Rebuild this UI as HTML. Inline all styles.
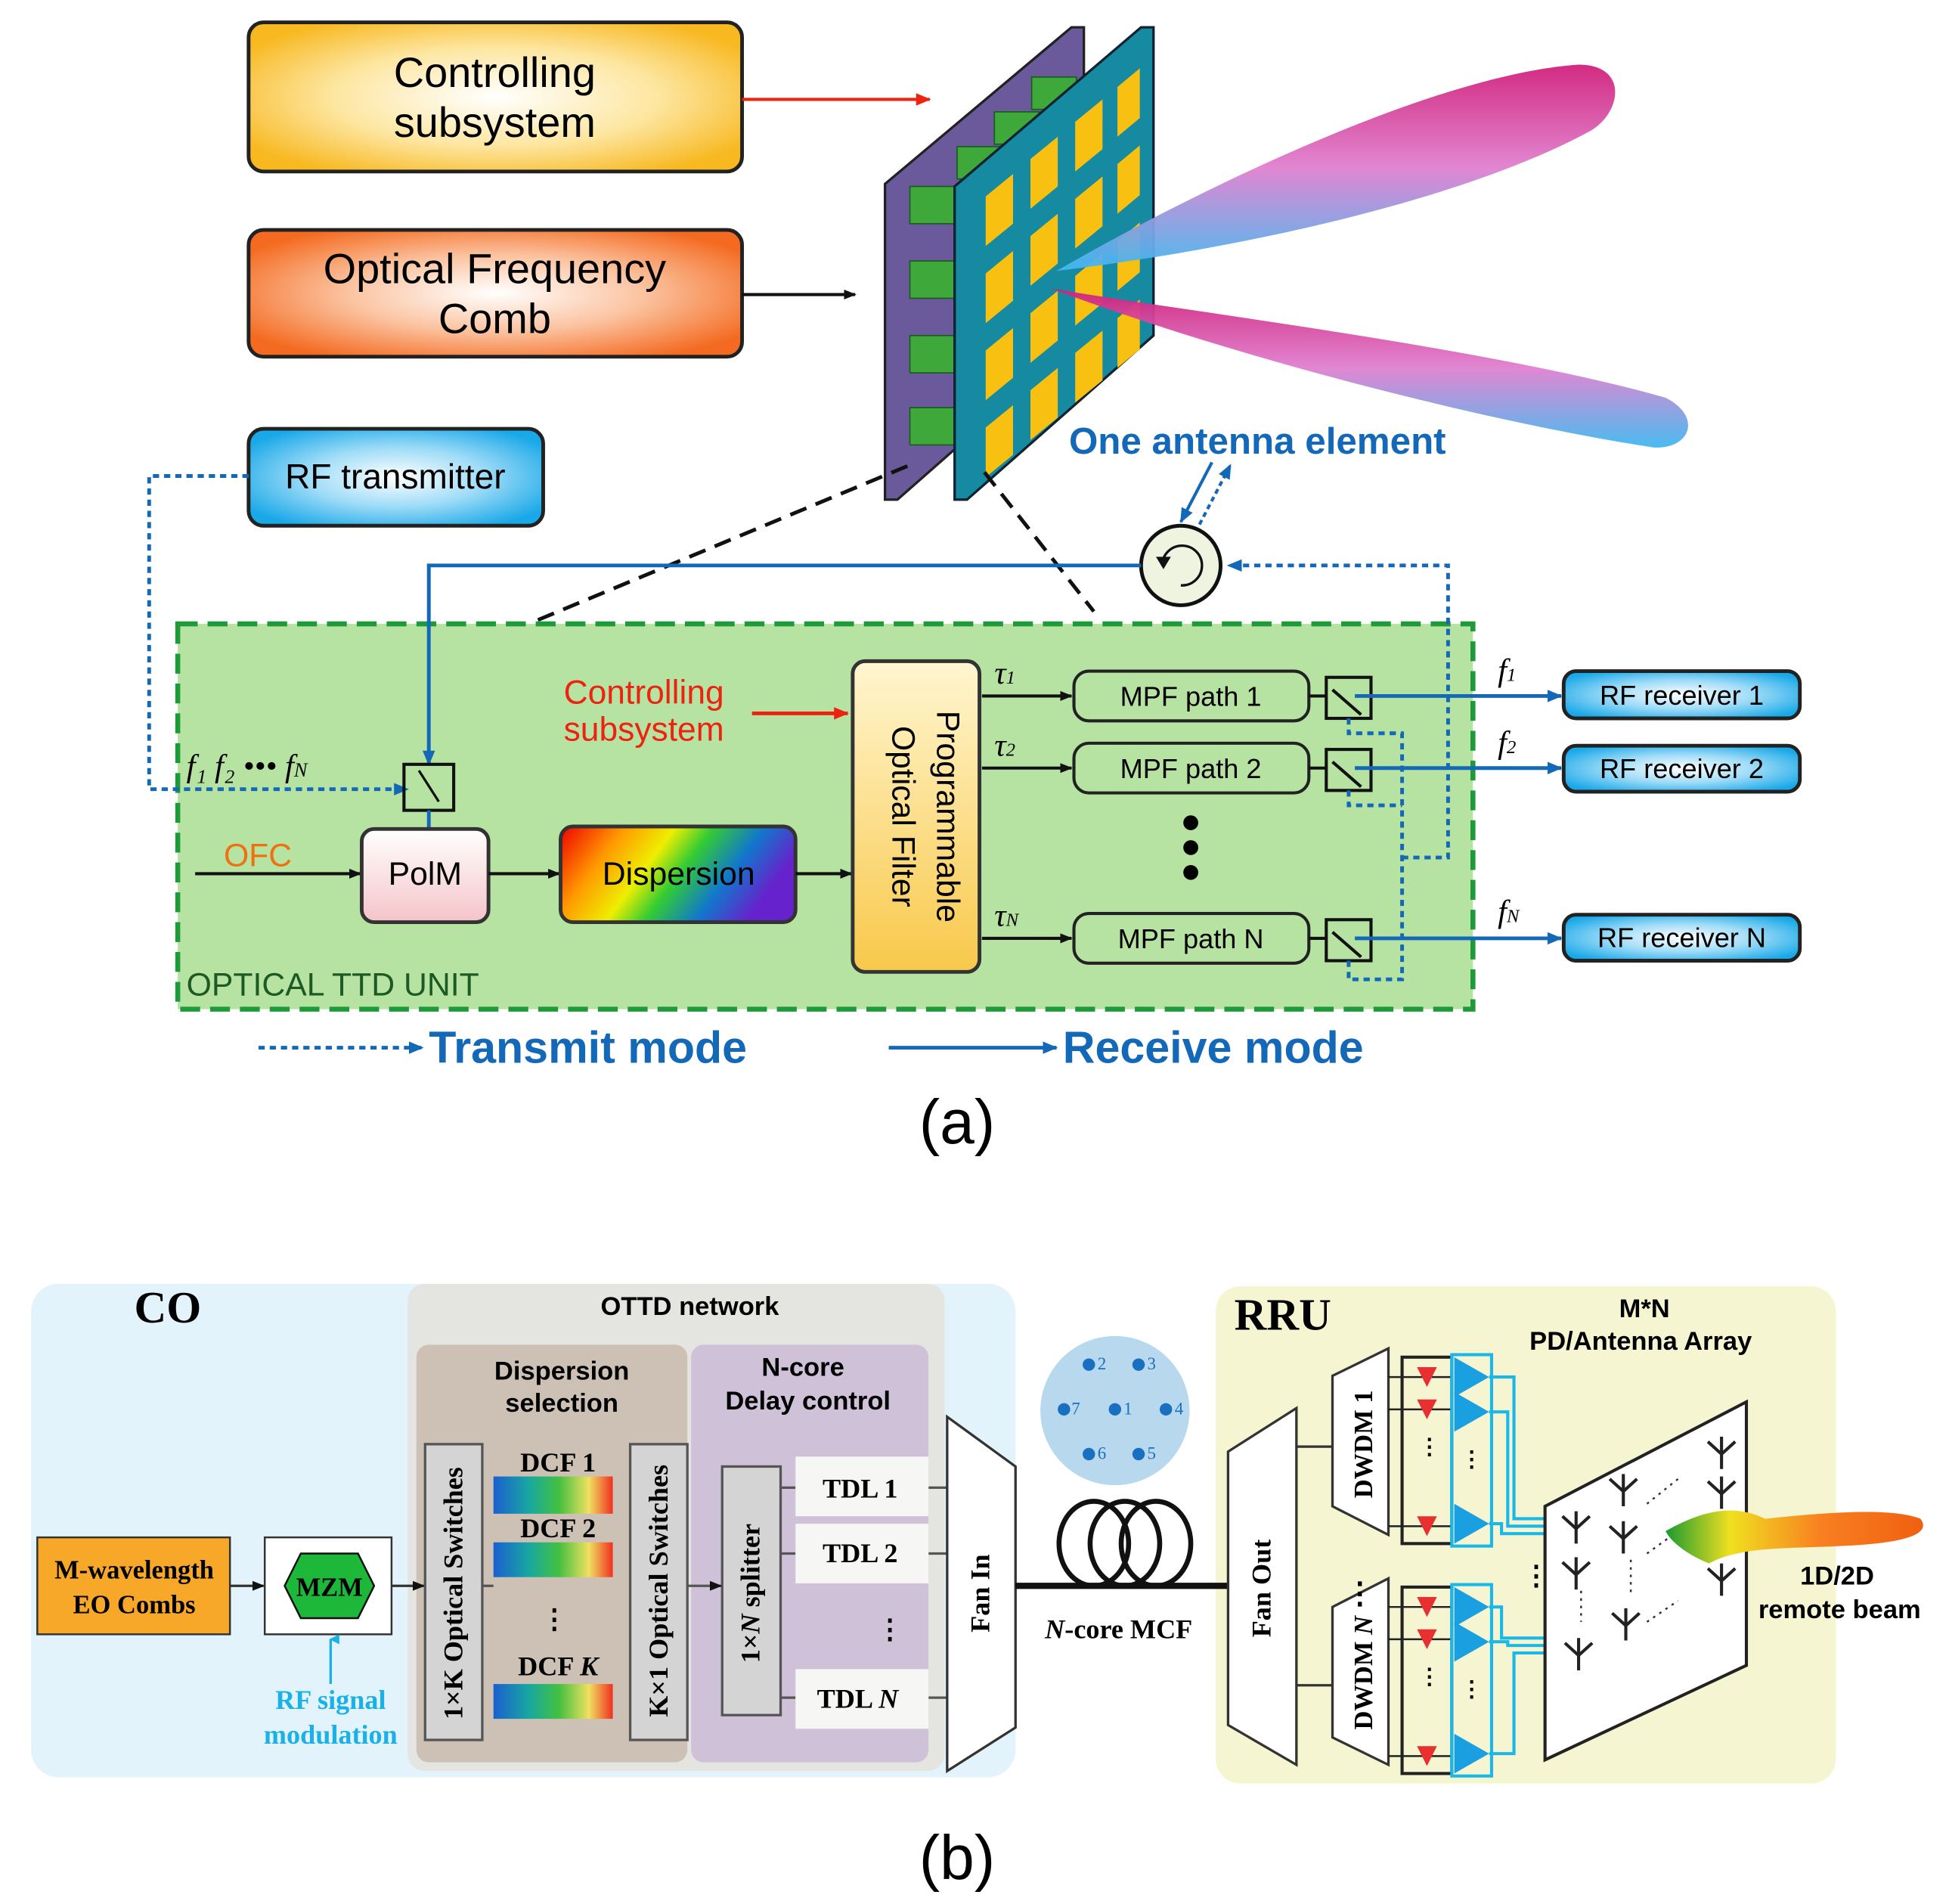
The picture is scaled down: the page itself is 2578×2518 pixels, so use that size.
<!DOCTYPE html>
<html><head><meta charset="utf-8"><style>html,body{margin:0;padding:0;background:#fff}svg{display:block}</style></head><body>
<svg width="2578" height="2518" viewBox="0 0 1568 1532" preserveAspectRatio="none" xmlns="http://www.w3.org/2000/svg" font-family="Liberation Sans, sans-serif">
<defs>
<radialGradient id="gy" cx="50%" cy="50%" r="60%"><stop offset="0" stop-color="#fff"/><stop offset="0.55" stop-color="#fde6a0"/><stop offset="1" stop-color="#f8b820"/></radialGradient>
<radialGradient id="go" cx="50%" cy="50%" r="60%"><stop offset="0" stop-color="#fff"/><stop offset="0.5" stop-color="#fbc3a0"/><stop offset="1" stop-color="#f46a20"/></radialGradient>
<radialGradient id="gb" cx="50%" cy="50%" r="60%"><stop offset="0" stop-color="#fff"/><stop offset="0.5" stop-color="#9fdcf7"/><stop offset="1" stop-color="#19a8e8"/></radialGradient>
<linearGradient id="gp" x1="0" y1="0" x2="0" y2="1"><stop offset="0" stop-color="#fff"/><stop offset="1" stop-color="#f4c4c8"/></linearGradient>
<linearGradient id="gf" x1="0" y1="0" x2="0" y2="1"><stop offset="0" stop-color="#fff6d0"/><stop offset="1" stop-color="#f8c84a"/></linearGradient>
<linearGradient id="rain" x1="0" y1="0" x2="1" y2="0.3"><stop offset="0" stop-color="#e00"/><stop offset="0.25" stop-color="#f90"/><stop offset="0.45" stop-color="#ee0"/><stop offset="0.6" stop-color="#3c3"/><stop offset="0.8" stop-color="#17c"/><stop offset="1" stop-color="#62c"/></linearGradient>
<linearGradient id="dcf" x1="0" y1="0" x2="1" y2="0"><stop offset="0" stop-color="#1a5fd0"/><stop offset="0.3" stop-color="#18a8a0"/><stop offset="0.55" stop-color="#44c040"/><stop offset="0.8" stop-color="#f0e060"/><stop offset="1" stop-color="#f03020"/></linearGradient>
<linearGradient id="lobe" x1="0" y1="0" x2="0" y2="1"><stop offset="0" stop-color="#d0207a"/><stop offset="0.5" stop-color="#e080d0"/><stop offset="1" stop-color="#40b8f0"/></linearGradient>
<linearGradient id="beam" x1="0" y1="0" x2="1" y2="0"><stop offset="0" stop-color="#1a9a30"/><stop offset="0.25" stop-color="#f0e020"/><stop offset="0.6" stop-color="#f88020"/><stop offset="1" stop-color="#f06010"/></linearGradient>
<marker id="ak" markerWidth="10" markerHeight="10" refX="9" refY="5" orient="auto" markerUnits="userSpaceOnUse"><path d="M0,1 L10,5 L0,9z" fill="#111"/></marker>
<marker id="ar" markerWidth="12" markerHeight="12" refX="11" refY="6" orient="auto" markerUnits="userSpaceOnUse"><path d="M0,1 L12,6 L0,11z" fill="#e21"/></marker>
<marker id="ab" markerWidth="12" markerHeight="12" refX="11" refY="6" orient="auto" markerUnits="userSpaceOnUse"><path d="M0,1 L12,6 L0,11z" fill="#1468b8"/></marker>
<marker id="ac" markerWidth="8" markerHeight="8" refX="4" refY="1" orient="auto" markerUnits="userSpaceOnUse"><path d="M0,8 L4,0 L8,8z" fill="#1ab0e8"/></marker>
<g id="ant"><path d="M0,-12 L0,14 M-11,-8 L0,2 L11,-8" fill="none" stroke="#222" stroke-width="2.5"/></g>
</defs>

<!-- TOP -->
<rect x="200" y="18" width="397" height="120" rx="12" fill="url(#gy)" stroke="#222" stroke-width="3"/>
<text x="398" y="70" font-size="34" text-anchor="middle">Controlling</text>
<text x="398" y="110" font-size="34" text-anchor="middle">subsystem</text>
<line x1="597" y1="80" x2="748" y2="80" stroke="#e21" stroke-width="2.5" marker-end="url(#ar)"/>
<rect x="200" y="185" width="397" height="102" rx="12" fill="url(#go)" stroke="#222" stroke-width="3"/>
<text x="398" y="228" font-size="34" text-anchor="middle">Optical Frequency</text>
<text x="398" y="268" font-size="34" text-anchor="middle">Comb</text>
<line x1="597" y1="237" x2="688" y2="237" stroke="#111" stroke-width="2.5" marker-end="url(#ak)"/>

<polygon points="712,148 862,22 872,22 872,270 722,402 712,402" fill="#6a5a9c" stroke="#222" stroke-width="2"/>
<g fill="#3fa83a" stroke="#1a5a1a" stroke-width="1">
<rect x="732" y="150" width="36" height="30"/><rect x="732" y="210" width="36" height="30"/><rect x="732" y="270" width="36" height="30"/><rect x="732" y="328" width="36" height="30"/>
<rect x="770" y="118" width="36" height="26"/><rect x="800" y="90" width="36" height="26"/><rect x="830" y="62" width="36" height="26"/>
</g>
<polygon points="768,150 918,22 928,22 928,270 778,402 768,402" fill="#158aa0" stroke="#123" stroke-width="2"/>
<g fill="#f8c010">
<polygon points="793,158 815,140 815,180 793,198"/><polygon points="829,128 851,110 851,150 829,168"/><polygon points="865,98 887,80 887,120 865,138"/><polygon points="899,70 917,55 917,95 899,110"/>
<polygon points="793,220 815,202 815,242 793,260"/><polygon points="829,190 851,172 851,212 829,230"/><polygon points="865,160 887,142 887,182 865,200"/><polygon points="899,132 917,117 917,157 899,172"/>
<polygon points="793,282 815,264 815,304 793,322"/><polygon points="829,252 851,234 851,274 829,292"/><polygon points="865,222 887,204 887,244 865,262"/><polygon points="899,194 917,179 917,219 899,234"/>
<polygon points="793,344 815,326 815,366 793,384"/><polygon points="829,314 851,296 851,336 829,354"/><polygon points="865,284 887,266 887,306 865,324"/><polygon points="899,256 917,241 917,281 899,296"/>
</g>
<path d="M850,218 C950,160 1150,60 1270,52 C1310,52 1305,90 1280,105 C1180,160 1000,200 850,218z" fill="url(#lobe)" opacity="0.95"/>
<path d="M845,232 C950,250 1200,280 1340,320 C1370,335 1360,362 1330,360 C1200,340 1000,290 845,232z" fill="url(#lobe)" opacity="0.95"/>
<text x="860" y="365" font-size="30" font-weight="bold" fill="#1468b8">One antenna element</text>
<line x1="975" y1="372" x2="950" y2="420" stroke="#1468b8" stroke-width="2.5" marker-end="url(#ab)"/>
<line x1="965" y1="422" x2="990" y2="374" stroke="#1468b8" stroke-width="2.5" stroke-dasharray="4,3" marker-end="url(#ab)"/>
<circle cx="950" cy="455" r="32" fill="#eef4e0" stroke="#111" stroke-width="3"/>
<path d="M935,455 A16,16 0 1 1 950,471" fill="none" stroke="#111" stroke-width="2"/>
<path d="M930,448 L936,458 L942,448z" fill="#111"/>

<line x1="730" y1="375" x2="430" y2="500" stroke="#111" stroke-width="3" stroke-dasharray="14,8"/>
<line x1="792" y1="380" x2="880" y2="492" stroke="#111" stroke-width="3" stroke-dasharray="14,8"/>

<rect x="200" y="345" width="237" height="78" rx="12" fill="url(#gb)" stroke="#222" stroke-width="3"/>
<text x="318" y="393" font-size="28" text-anchor="middle">RF transmitter</text>

<rect x="143" y="502" width="1042" height="310" fill="#b7e3a2" stroke="#1f9a3a" stroke-width="4" stroke-dasharray="16,8"/>
<text x="150" y="801" font-size="26" fill="#1b5a22">OPTICAL TTD UNIT</text>

<path d="M200,383 L120,383 L120,635 L328,635" fill="none" stroke="#1468b8" stroke-width="3" stroke-dasharray="5,4" marker-end="url(#ab)"/>
<path d="M918,455 L345,455 L345,615" fill="none" stroke="#1468b8" stroke-width="3" marker-end="url(#ab)"/>
<path d="M1128,690 L1165,690 L1165,455 L988,455" fill="none" stroke="#1468b8" stroke-width="3" stroke-dasharray="5,4" marker-end="url(#ab)"/>

<text x="150" y="625" font-size="26" font-style="italic" font-family="Liberation Serif, serif">f₁  f₂ ••• f<tspan font-size="16">N</tspan></text>
<rect x="325" y="615" width="40" height="37" fill="none" stroke="#111" stroke-width="2.5"/>
<line x1="337" y1="620" x2="353" y2="645" stroke="#111" stroke-width="2"/>
<line x1="345" y1="652" x2="345" y2="667" stroke="#1468b8" stroke-width="3"/>
<text x="180" y="697" font-size="26" fill="#f07010">OFC</text>
<line x1="157" y1="703" x2="290" y2="703" stroke="#111" stroke-width="2.5" marker-end="url(#ak)"/>
<rect x="291" y="667" width="102" height="75" rx="10" fill="url(#gp)" stroke="#333" stroke-width="3"/>
<text x="342" y="712" font-size="26" text-anchor="middle">PolM</text>
<line x1="393" y1="703" x2="450" y2="703" stroke="#111" stroke-width="2.5" marker-end="url(#ak)"/>
<rect x="451" y="665" width="189" height="77" rx="10" fill="url(#rain)" stroke="#333" stroke-width="3"/>
<text x="546" y="712" font-size="26" text-anchor="middle">Dispersion</text>
<line x1="640" y1="703" x2="685" y2="703" stroke="#111" stroke-width="2.5" marker-end="url(#ak)"/>
<rect x="686" y="532" width="102" height="250" rx="10" fill="url(#gf)" stroke="#333" stroke-width="3"/>
<text transform="translate(754,657) rotate(90)" font-size="26" text-anchor="middle">Programmable</text>
<text transform="translate(718,657) rotate(90)" font-size="26" text-anchor="middle">Optical Filter</text>
<text x="518" y="566" font-size="27" fill="#e21" text-anchor="middle">Controlling</text>
<text x="518" y="596" font-size="27" fill="#e21" text-anchor="middle">subsystem</text>
<line x1="605" y1="574" x2="682" y2="574" stroke="#e21" stroke-width="3" marker-end="url(#ar)"/>

<g font-family="Liberation Serif, serif" font-style="italic" font-size="26">
<text x="800" y="550">τ<tspan font-size="15">1</tspan></text>
<text x="800" y="608">τ<tspan font-size="15">2</tspan></text>
<text x="800" y="745">τ<tspan font-size="15">N</tspan></text>
<text x="1205" y="548">f<tspan font-size="15">1</tspan></text>
<text x="1205" y="606">f<tspan font-size="15">2</tspan></text>
<text x="1205" y="742">f<tspan font-size="15">N</tspan></text>
</g>
<g stroke="#111" stroke-width="2.5">
<line x1="790" y1="560" x2="862" y2="560" marker-end="url(#ak)"/>
<line x1="790" y1="618" x2="862" y2="618" marker-end="url(#ak)"/>
<line x1="790" y1="755" x2="862" y2="755" marker-end="url(#ak)"/>
</g>
<g fill="#b7e3a2" stroke="#222" stroke-width="2.5">
<rect x="864" y="540" width="189" height="40" rx="12"/><rect x="864" y="598" width="189" height="40" rx="12"/><rect x="864" y="735" width="189" height="40" rx="12"/>
</g>
<g font-size="22" text-anchor="middle"><text x="958" y="568">MPF path 1</text><text x="958" y="626">MPF path 2</text><text x="958" y="763">MPF path N</text></g>
<circle cx="958" cy="662" r="6"/><circle cx="958" cy="682" r="6"/><circle cx="958" cy="702" r="6"/>
<g fill="none" stroke="#111" stroke-width="2.5">
<rect x="1067" y="545" width="36" height="33"/><rect x="1067" y="603" width="36" height="33"/><rect x="1067" y="740" width="36" height="33"/>
<line x1="1053" y1="560" x2="1067" y2="560"/><line x1="1053" y1="618" x2="1067" y2="618"/><line x1="1053" y1="755" x2="1067" y2="755"/>
<line x1="1072" y1="555" x2="1095" y2="575"/><line x1="1072" y1="613" x2="1095" y2="633"/><line x1="1072" y1="750" x2="1095" y2="770"/>
</g>
<g stroke="#1468b8" stroke-width="3" fill="none">
<line x1="1090" y1="560" x2="1256" y2="560" marker-end="url(#ab)"/>
<line x1="1090" y1="618" x2="1256" y2="618" marker-end="url(#ab)"/>
<line x1="1090" y1="755" x2="1256" y2="755" marker-end="url(#ab)"/>
<path d="M1085,578 L1085,590 L1128,590 L1128,788 L1085,788 L1085,773" stroke-dasharray="5,4"/>
<path d="M1085,636 L1085,648 L1128,648" stroke-dasharray="5,4"/>
</g>
<g fill="url(#gb)" stroke="#222" stroke-width="3">
<rect x="1258" y="540" width="190" height="38" rx="10"/><rect x="1258" y="600" width="190" height="37" rx="10"/><rect x="1258" y="736" width="190" height="37" rx="10"/>
</g>
<g font-size="22" text-anchor="middle"><text x="1353" y="567">RF receiver 1</text><text x="1353" y="626">RF receiver 2</text><text x="1353" y="762">RF receiver N</text></g>

<line x1="208" y1="843" x2="340" y2="843" stroke="#1468b8" stroke-width="3" stroke-dasharray="5,4" marker-end="url(#ab)"/>
<text x="345" y="855" font-size="36" font-weight="bold" fill="#1468b8">Transmit mode</text>
<line x1="715" y1="843" x2="850" y2="843" stroke="#1468b8" stroke-width="3" marker-end="url(#ab)"/>
<text x="855" y="855" font-size="36" font-weight="bold" fill="#1468b8">Receive mode</text>
<text x="770" y="920" font-size="50" text-anchor="middle">(a)</text>

<!-- BOTTOM -->
<rect x="25" y="1033" width="792" height="397" rx="22" fill="#e2f3fb"/>
<rect x="328" y="1033" width="432" height="392" rx="14" fill="#e4e5e1"/>
<rect x="335" y="1082" width="218" height="336" rx="10" fill="#cdc1b5"/>
<rect x="556" y="1082" width="191" height="336" rx="10" fill="#cfc1d8"/>
<rect x="978" y="1035" width="499" height="400" rx="20" fill="#f6f5d2"/>
<g font-family="Liberation Serif, serif" font-weight="bold">
<text x="108" y="1064" font-size="36">CO</text>
<text x="993" y="1070" font-size="36">RRU</text>
</g>
<g font-weight="bold" font-size="21" text-anchor="middle">
<text x="555" y="1058">OTTD network</text>
<text x="452" y="1110">Dispersion</text><text x="452" y="1136">selection</text>
<text x="646" y="1107">N-core</text><text x="650" y="1134">Delay control</text>
<text x="1323" y="1060">M*N</text><text x="1320" y="1086">PD/Antenna Array</text>
</g>
<rect x="30" y="1237" width="155" height="78" fill="#f8a828" stroke="#333" stroke-width="1.5"/>
<g font-family="Liberation Serif, serif" font-weight="bold" font-size="21" text-anchor="middle">
<text x="108" y="1270">M-wavelength</text><text x="108" y="1298">EO Combs</text>
</g>
<line x1="185" y1="1276" x2="212" y2="1276" stroke="#333" stroke-width="2" marker-end="url(#ak)"/>
<rect x="213" y="1237" width="102" height="78" fill="#fff" stroke="#333" stroke-width="1.5"/>
<polygon points="229,1276 242,1250 288,1250 301,1276 288,1302 242,1302" fill="#1db83a" stroke="#111" stroke-width="1.5"/>
<text x="265" y="1284" font-family="Liberation Serif, serif" font-weight="bold" font-size="21" text-anchor="middle">MZM</text>
<line x1="315" y1="1276" x2="341" y2="1276" stroke="#333" stroke-width="2" marker-end="url(#ak)"/>
<line x1="266" y1="1355" x2="266" y2="1319" stroke="#1ab0e8" stroke-width="2" marker-end="url(#ac)"/>
<g font-family="Liberation Serif, serif" font-weight="bold" font-size="22" fill="#1ab0e8" text-anchor="middle">
<text x="266" y="1375">RF signal</text><text x="266" y="1403">modulation</text>
</g>
<g fill="#d4d4d4" stroke="#555" stroke-width="2">
<rect x="342" y="1162" width="46" height="238"/><rect x="507" y="1162" width="46" height="238"/><rect x="581" y="1180" width="47" height="200"/>
</g>
<g font-family="Liberation Serif, serif" font-weight="bold" font-size="22" text-anchor="middle">
<text transform="translate(372,1282) rotate(-90)">1×K Optical Switches</text>
<text transform="translate(537,1280) rotate(-90)">K×1 Optical Switches</text>
<text transform="translate(611,1282) rotate(-90)">1×<tspan font-style="italic">N</tspan> splitter</text>
<text x="449" y="1184">DCF 1</text><text x="449" y="1237">DCF 2</text><text x="449" y="1348">DCF <tspan font-style="italic">K</tspan></text>
<text x="446" y="1310">⋮</text>
</g>
<g fill="url(#dcf)"><rect x="397" y="1188" width="96" height="30"/><rect x="397" y="1241" width="96" height="28"/><rect x="397" y="1355" width="96" height="28"/></g>
<g stroke="#555" stroke-width="2"><line x1="388" y1="1276" x2="397" y2="1276"/><line x1="553" y1="1276" x2="580" y2="1276" marker-end="url(#ak)"/>
<line x1="628" y1="1197" x2="640" y2="1197"/><line x1="628" y1="1250" x2="640" y2="1250"/><line x1="628" y1="1366" x2="640" y2="1366"/>
<line x1="747" y1="1197" x2="762" y2="1197"/><line x1="747" y1="1250" x2="762" y2="1250"/><line x1="747" y1="1366" x2="762" y2="1366"/></g>
<g fill="#f6f6f4"><rect x="640" y="1172" width="107" height="48"/><rect x="640" y="1226" width="107" height="48"/><rect x="640" y="1343" width="107" height="48"/></g>
<g font-family="Liberation Serif, serif" font-weight="bold" font-size="22" text-anchor="middle">
<text x="692" y="1205">TDL 1</text><text x="692" y="1257">TDL 2</text><text x="690" y="1374">TDL <tspan font-style="italic">N</tspan></text>
<text x="716" y="1318">⋮</text>
</g>
<polygon points="762,1140 817,1180 817,1390 762,1425" fill="#fff" stroke="#333" stroke-width="2"/>
<text transform="translate(796,1282) rotate(-90)" font-family="Liberation Serif, serif" font-weight="bold" font-size="22" text-anchor="middle">Fan In</text>
<circle cx="897" cy="1135" r="60" fill="#b8d8ee"/>
<g fill="#1a70c0" font-size="14" font-family="Liberation Serif, serif">
<circle cx="876" cy="1098" r="5"/><text x="883" y="1102">2</text><circle cx="916" cy="1098" r="5"/><text x="923" y="1102">3</text>
<circle cx="856" cy="1134" r="5"/><text x="862" y="1138">7</text><circle cx="897" cy="1134" r="5"/><text x="904" y="1138">1</text><circle cx="938" cy="1134" r="5"/><text x="945" y="1138">4</text>
<circle cx="876" cy="1170" r="5"/><text x="883" y="1174">6</text><circle cx="916" cy="1170" r="5"/><text x="923" y="1174">5</text>
</g>
<line x1="817" y1="1276" x2="988" y2="1276" stroke="#111" stroke-width="5"/>
<g fill="none" stroke="#111" stroke-width="4"><ellipse cx="880" cy="1242" rx="28" ry="34"/><ellipse cx="905" cy="1242" rx="28" ry="34"/><ellipse cx="930" cy="1242" rx="28" ry="34"/></g>
<text x="900" y="1318" font-family="Liberation Serif, serif" font-style="italic" font-size="22" text-anchor="middle" font-weight="bold">N<tspan font-style="normal">-core MCF</tspan></text>

<polygon points="988,1168 1043,1133 1043,1420 988,1388" fill="#fff" stroke="#333" stroke-width="2"/>
<text transform="translate(1022,1278) rotate(-90)" font-family="Liberation Serif, serif" font-weight="bold" font-size="22" text-anchor="middle">Fan Out</text>
<g stroke="#333" stroke-width="2"><line x1="1043" y1="1164" x2="1072" y2="1164"/><line x1="1043" y1="1356" x2="1072" y2="1356"/></g>
<polygon points="1072,1107 1117,1085 1117,1235 1072,1212" fill="#fff" stroke="#333" stroke-width="2"/>
<polygon points="1072,1293 1117,1270 1117,1420 1072,1398" fill="#fff" stroke="#333" stroke-width="2"/>
<g font-family="Liberation Serif, serif" font-weight="bold" font-size="21" text-anchor="middle">
<text transform="translate(1104,1162) rotate(-90)">DWDM 1</text>
<text transform="translate(1104,1346) rotate(-90)">DWDM <tspan font-style="italic">N</tspan></text>
<text x="1094" y="1290" font-size="24">⋮</text>
<text x="1150" y="1170" font-size="18">⋮</text><text x="1150" y="1355" font-size="18">⋮</text>
<text x="1184" y="1180" font-size="18">⋮</text><text x="1184" y="1365" font-size="18">⋮</text>
</g>
<g stroke="#222" stroke-width="1.5">
<line x1="1117" y1="1108" x2="1168" y2="1108"/><line x1="1117" y1="1134" x2="1168" y2="1134"/><line x1="1117" y1="1228" x2="1168" y2="1228"/>
<line x1="1117" y1="1293" x2="1168" y2="1293"/><line x1="1117" y1="1319" x2="1168" y2="1319"/><line x1="1117" y1="1413" x2="1168" y2="1413"/>
</g>
<g fill="none" stroke="#222" stroke-width="2.5"><rect x="1128" y="1092" width="40" height="150"/><rect x="1128" y="1277" width="40" height="150"/></g>
<g fill="#e83030">
<polygon points="1140,1100 1156,1100 1148,1116"/><polygon points="1140,1126 1156,1126 1148,1142"/><polygon points="1140,1220 1156,1220 1148,1236"/>
<polygon points="1140,1285 1156,1285 1148,1301"/><polygon points="1140,1311 1156,1311 1148,1327"/><polygon points="1140,1405 1156,1405 1148,1421"/>
</g>
<g fill="#1aa0e0">
<polygon points="1170,1092 1198,1108 1170,1124"/><polygon points="1170,1120 1198,1136 1170,1152"/><polygon points="1170,1210 1198,1226 1170,1242"/>
<polygon points="1170,1277 1198,1293 1170,1309"/><polygon points="1170,1305 1198,1321 1170,1337"/><polygon points="1170,1395 1198,1411 1170,1427"/>
</g>
<g fill="none" stroke="#1ab8e8" stroke-width="2.5">
<rect x="1168" y="1090" width="32" height="154"/><rect x="1168" y="1275" width="32" height="154"/>
<path d="M1198,1108 L1218,1108 L1218,1222 L1243,1222"/><path d="M1198,1136 L1213,1136 L1213,1228 L1243,1228"/><path d="M1198,1226 L1208,1226 L1208,1234 L1243,1234"/>
<path d="M1198,1293 L1208,1293 L1208,1318 L1243,1318"/><path d="M1198,1321 L1213,1321 L1213,1324 L1243,1324"/><path d="M1198,1411 L1218,1411 L1218,1330 L1243,1330"/>
</g>
<polygon points="1243,1212 1405,1128 1405,1340 1243,1416" fill="#fff" stroke="#222" stroke-width="2.5"/>
<use href="#ant" x="1268" y="1228"/><use href="#ant" x="1268" y="1265"/><use href="#ant" x="1270" y="1330"/>
<use href="#ant" x="1306" y="1198"/><use href="#ant" x="1306" y="1236"/><use href="#ant" x="1308" y="1306"/>
<use href="#ant" x="1385" y="1168"/><use href="#ant" x="1385" y="1200"/><use href="#ant" x="1385" y="1270"/>
<g stroke="#333" stroke-width="1.5" stroke-dasharray="2,4"><line x1="1325" y1="1210" x2="1350" y2="1190"/><line x1="1325" y1="1250" x2="1350" y2="1232"/><line x1="1325" y1="1305" x2="1350" y2="1288"/><line x1="1272" y1="1280" x2="1272" y2="1305"/><line x1="1312" y1="1255" x2="1312" y2="1285"/></g>
<path d="M1340,1232 C1370,1215 1395,1210 1420,1222 C1460,1218 1520,1212 1545,1222 C1555,1235 1530,1242 1480,1244 C1440,1246 1400,1244 1375,1258 C1360,1252 1345,1242 1340,1232z" fill="url(#beam)"/>
<text x="1225" y="1275" font-size="22" font-weight="bold">⋮</text>
<g font-weight="bold" font-size="21" text-anchor="middle">
<text x="1478" y="1275">1D/2D</text><text x="1480" y="1302">remote beam</text>
</g>
<text x="770" y="1512" font-size="50" text-anchor="middle">(b)</text>
</svg>
</body></html>
